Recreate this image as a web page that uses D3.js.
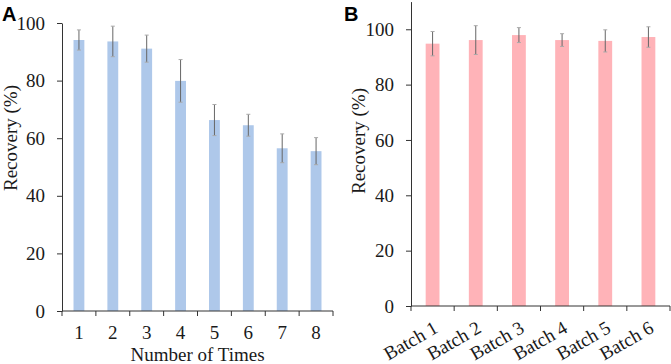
<!DOCTYPE html>
<html>
<head>
<meta charset="utf-8">
<script src="https://cdn.jsdelivr.net/npm/d3@7"></script>
<style>
  body { margin: 0; background: #fff; }
  svg { display: block; }
  .tick text { font-family: "Liberation Serif", "Times New Roman", serif; font-size: 19px; fill: #1a1a1a; }
  .tick line, .domain { stroke: #333; }
  .title { font-family: "Liberation Serif", "Times New Roman", serif; font-size: 19px; fill: #1a1a1a; }
  .panel { font-family: "Liberation Sans", Arial, sans-serif; font-size: 20px; font-weight: bold; }
</style>
</head>
<body>
<div id="chart"></div>
<script>
// panel A: reuse
const timesLabels = ["1", "2", "3", "4", "5", "6", "7", "8"];
const timesRecovery = [94.1, 93.6, 91.1, 79.9, 66.3, 64.5, 56.5, 55.5];
const timesError = [3.5, 5.3, 4.7, 7.4, 5.4, 3.8, 5.0, 4.7];

// panel B: batches
const batchLabels = ["Batch 1", "Batch 2", "Batch 3", "Batch 4", "Batch 5", "Batch 6"];
const batchRecovery = [94.8, 96.1, 97.9, 96.1, 95.8, 97.2];
const batchError = [4.4, 5.2, 2.7, 2.3, 4.0, 3.7];

const yTicks = [0, 20, 40, 60, 80, 100];

const svg = d3.select("#chart").append("svg")
    .attr("width", 671)
    .attr("height", 364);

function drawPanel(opt) {
    let x = d3.scaleBand()
        .domain(opt.labels)
        .range(opt.xRange)
        .paddingInner(0.68)
        .paddingOuter(0.34);
    let y = d3.scaleLinear()
        .domain(opt.yDomain)
        .range(opt.yRange);

    let data = opt.labels.map((d, i) => ({label: d, value: opt.values[i], err: opt.errors[i]}));

    let g = svg.append("g");

    g.selectAll("rect.bar")
        .data(data)
        .enter().append("rect")
        .attr("class", "bar")
        .attr("x", d => x(d.label))
        .attr("width", x.bandwidth())
        .attr("y", d => y(d.value))
        .attr("height", d => y(0) - y(d.value))
        .attr("fill", opt.color);

    // error bars
    let eb = g.selectAll("g.err")
        .data(data)
        .enter().append("g")
        .attr("class", "err")
        .attr("stroke", "#666")
        .attr("stroke-width", 1);
    eb.append("line")
        .attr("x1", d => x(d.label) + x.bandwidth() / 2)
        .attr("x2", d => x(d.label) + x.bandwidth() / 2)
        .attr("y1", d => y(d.value + d.err))
        .attr("y2", d => y(d.value - d.err));
    eb.append("line")
        .attr("x1", d => x(d.label) + x.bandwidth() / 2 - 2)
        .attr("x2", d => x(d.label) + x.bandwidth() / 2 + 2)
        .attr("y1", d => y(d.value + d.err))
        .attr("y2", d => y(d.value + d.err))
        .attr("stroke", "#aaa");
    eb.append("line")
        .attr("x1", d => x(d.label) + x.bandwidth() / 2 - 2)
        .attr("x2", d => x(d.label) + x.bandwidth() / 2 + 2)
        .attr("y1", d => y(d.value - d.err))
        .attr("y2", d => y(d.value - d.err))
        .attr("stroke", "#aaa");

    // y axis
    g.append("g")
        .attr("transform", `translate(${opt.xRange[0]},0)`)
        .call(d3.axisLeft(y).tickValues(yTicks).tickSize(5).tickPadding(12).tickSizeOuter(0));

    // x axis with ticks at band edges
    let xAxis = g.append("g")
        .attr("transform", `translate(0,${y(0)})`);
    xAxis.append("line")
        .attr("class", "domain")
        .attr("x1", opt.xRange[0])
        .attr("x2", opt.xRange[1]);
    let step = x.step();
    let edges = d3.range(opt.labels.length + 1).map(i => opt.xRange[0] + i * step);
    xAxis.selectAll("line.edge")
        .data(edges)
        .enter().append("line")
        .attr("class", "edge")
        .attr("stroke", "#333")
        .attr("x1", d => d).attr("x2", d => d)
        .attr("y1", 0).attr("y2", 5);

    xAxis.selectAll("text.xl")
        .data(opt.labels)
        .enter().append("text")
        .attr("class", "title")
        .attr("transform", d => `translate(${x(d) + x.bandwidth() / 2},${opt.rotate ? 14 : 28})` + (opt.rotate ? " rotate(-30)" : ""))
        .attr("text-anchor", opt.rotate ? "end" : "middle")
        .attr("dy", opt.rotate ? "0.7em" : 0)
        .text(d => d);

    // y title
    g.append("text")
        .attr("class", "title")
        .attr("transform", `translate(${opt.yTitleX},${opt.yTitleY}) rotate(-90)`)
        .attr("text-anchor", "middle")
        .text("Recovery (%)");

    if (opt.xTitle) {
        g.append("text")
            .attr("class", "title")
            .attr("x", (opt.xRange[0] + opt.xRange[1]) / 2)
            .attr("y", 361)
            .attr("text-anchor", "middle")
            .text(opt.xTitle);
    }

    g.append("text")
        .attr("class", "panel")
        .attr("x", opt.panelX)
        .attr("y", 21)
        .text(opt.panel);
}

drawPanel({
    labels: timesLabels, values: timesRecovery, errors: timesError,
    xRange: [62, 333], yDomain: [0, 100], yRange: [311, 23],
    color: "#aec8ea", yTitleX: 17, yTitleY: 138, xTitle: "Number of Times",
    panel: "A", panelX: 2, rotate: false
});

drawPanel({
    labels: batchLabels, values: batchRecovery, errors: batchError,
    xRange: [411, 670], yDomain: [0, 110], yRange: [306, 1.6],
    color: "#ffb3b8", yTitleX: 365, yTitleY: 141, xTitle: null,
    panel: "B", panelX: 344, rotate: true
});
</script>
</body>
</html>
